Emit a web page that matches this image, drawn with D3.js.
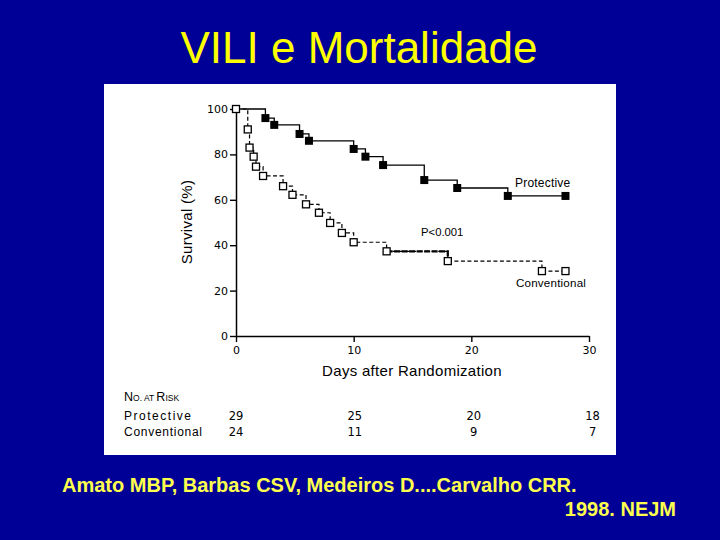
<!DOCTYPE html>
<html>
<head>
<meta charset="utf-8">
<script src="https://cdn.jsdelivr.net/npm/d3@7"></script>
<style>
  html, body { margin: 0; padding: 0; background: #000096; }
  svg { display: block; }
</style>
</head>
<body>
<svg id="chart" width="720" height="540"></svg>
<script>
// ---- data ----
const protDays = [0, 2.5, 3.25, 5.4, 6.2, 10.0, 11.0, 12.5, 16.0, 18.8, 23.1, 28.0];
const protSurv = [100, 96, 93, 89, 86, 82.4, 79, 75.3, 68.7, 65.2, 61.7, 61.7];
const convDays = [0, 1.0, 1.15, 1.5, 1.7, 2.3, 4.0, 4.8, 5.95, 7.05, 8.0, 9.0, 10.0, 12.8, 18.0, 26.0, 28.0];
const convSurv = [100, 91, 83, 79, 74.6, 70.5, 66, 62.2, 58, 54.3, 49.8, 45.4, 41.3, 37.3, 33, 28.6, 28.6];
const xTicks = [0, 10, 20, 30];
const yTicks = [0, 20, 40, 60, 80, 100];
const riskDays = [0, 10, 20, 30];
const riskProtective = [29, 25, 20, 18];
const riskConventional = [24, 11, 9, 7];
const titleText = "VILI e Mortalidade";
const refLine1 = "Amato MBP, Barbas CSV, Medeiros D....Carvalho CRR.";
const refLine2 = "1998. NEJM";

// ---- layout ----
const svg = d3.select("#chart");
svg.append("rect").attr("width", 720).attr("height", 540).attr("fill", "#000096");

svg.append("text").attr("x", 359).attr("y", 63).attr("text-anchor", "middle")
  .attr("font-family", "'Liberation Sans', Arial, sans-serif").attr("font-size", 44)
  .attr("fill", "#ffff00").text(titleText);

svg.append("rect").attr("x", 104).attr("y", 84).attr("width", 512).attr("height", 371).attr("fill", "#ffffff");

const x = d3.scaleLinear().domain([0, 30]).range([236, 589]);
const y = d3.scaleLinear().domain([0, 100]).range([336, 109]);

const tickFont = "'DejaVu Sans', Verdana, sans-serif";
const labFont = "'Liberation Sans', Arial, sans-serif";

// axes
const gy = svg.append("g").attr("transform", `translate(${x(0)},0)`)
  .call(d3.axisLeft(y).tickValues(yTicks).tickSize(6).tickPadding(2).tickSizeOuter(0));
const gx = svg.append("g").attr("transform", `translate(0,${y(0)})`)
  .call(d3.axisBottom(x).tickValues(xTicks).tickSize(6).tickPadding(4).tickSizeOuter(0));
[gy, gx].forEach(g => {
  g.select(".domain").attr("stroke", "#000").attr("stroke-width", 1.5);
  g.selectAll(".tick line").attr("stroke", "#000").attr("stroke-width", 1.4);
  g.selectAll(".tick text").attr("font-family", tickFont).attr("font-size", 11)
    .attr("fill", "#000");
});

svg.append("text").attr("transform", `translate(192,222) rotate(-90)`)
  .attr("text-anchor", "middle").attr("font-family", labFont).attr("font-size", 15)
  .attr("letter-spacing", 0.3).attr("fill", "#000").text("Survival (%)");
svg.append("text").attr("x", 412).attr("y", 376).attr("text-anchor", "middle")
  .attr("font-family", labFont).attr("font-size", 15).attr("letter-spacing", 0.3)
  .attr("fill", "#000").text("Days after Randomization");

// curves
const prot = protDays.map((d, i) => ({ day: d, s: protSurv[i] }));
const conv = convDays.map((d, i) => ({ day: d, s: convSurv[i] }));
const line = d3.line().x(d => x(d.day)).y(d => y(d.s)).curve(d3.curveStepAfter);

svg.append("path").attr("d", line(prot)).attr("fill", "none")
  .attr("stroke", "#000").attr("stroke-width", 1.3);
svg.append("path").attr("d", line(conv)).attr("fill", "none")
  .attr("stroke", "#000").attr("stroke-width", 1.2).attr("stroke-dasharray", "4,2.5");
// heavier dashed stretch seen in the figure
svg.append("path").attr("d", line(conv.slice(13, 15))).attr("fill", "none")
  .attr("stroke", "#000").attr("stroke-width", 2.2).attr("stroke-dasharray", "6,1.5");

svg.selectAll("rect.pm").data(prot.slice(1)).join("rect").attr("class", "pm")
  .attr("x", d => x(d.day) - 4).attr("y", d => y(d.s) - 4)
  .attr("width", 8).attr("height", 8).attr("fill", "#000");
svg.selectAll("rect.cm").data(conv).join("rect").attr("class", "cm")
  .attr("x", d => x(d.day) - 3.5).attr("y", d => y(d.s) - 3.5)
  .attr("width", 7).attr("height", 7).attr("fill", "#fff")
  .attr("stroke", "#000").attr("stroke-width", 1.3);

// annotations
svg.append("text").attr("x", 515).attr("y", 187).attr("font-family", labFont)
  .attr("font-size", 12).attr("letter-spacing", 0.2).attr("fill", "#000").text("Protective");
svg.append("text").attr("x", 516).attr("y", 287).attr("font-family", labFont)
  .attr("font-size", 11.6).attr("letter-spacing", 0.2).attr("fill", "#000").text("Conventional");
svg.append("text").attr("x", 421).attr("y", 236).attr("font-family", labFont)
  .attr("font-size", 11.3).attr("fill", "#000").text("P<0.001");

// number at risk
const nar = svg.append("text").attr("x", 124).attr("y", 401).attr("font-family", labFont)
  .attr("fill", "#000");
nar.append("tspan").attr("font-size", 12.5).text("N");
nar.append("tspan").attr("font-size", 8.5).text("O. AT ");
nar.append("tspan").attr("font-size", 12.5).text("R");
nar.append("tspan").attr("font-size", 8.5).text("ISK");

svg.append("text").attr("x", 124).attr("y", 420).attr("font-family", labFont)
  .attr("font-size", 12).attr("textLength", 67).attr("lengthAdjust", "spacing")
  .attr("fill", "#000").text("Protective");
svg.append("text").attr("x", 124).attr("y", 436).attr("font-family", labFont)
  .attr("font-size", 12).attr("textLength", 78).attr("lengthAdjust", "spacing")
  .attr("fill", "#000").text("Conventional");

svg.selectAll("text.rp").data(riskDays).join("text").attr("class", "rp")
  .attr("x", (d, i) => x(d) + i * 1.2).attr("y", 420).attr("text-anchor", "middle")
  .attr("font-family", tickFont).attr("font-size", 11.5).attr("fill", "#000")
  .text((d, i) => riskProtective[i]);
svg.selectAll("text.rc").data(riskDays).join("text").attr("class", "rc")
  .attr("x", (d, i) => x(d) + i * 1.2).attr("y", 436).attr("text-anchor", "middle")
  .attr("font-family", tickFont).attr("font-size", 11.5).attr("fill", "#000")
  .text((d, i) => riskConventional[i]);

// reference
svg.append("text").attr("x", 62).attr("y", 492).attr("font-family", labFont)
  .attr("font-weight", "bold").attr("font-size", 20).attr("fill", "#ffff4d").text(refLine1);
svg.append("text").attr("x", 676).attr("y", 516).attr("text-anchor", "end")
  .attr("font-family", labFont).attr("font-weight", "bold").attr("font-size", 20)
  .attr("fill", "#ffff4d").text(refLine2);
</script>
</body>
</html>
